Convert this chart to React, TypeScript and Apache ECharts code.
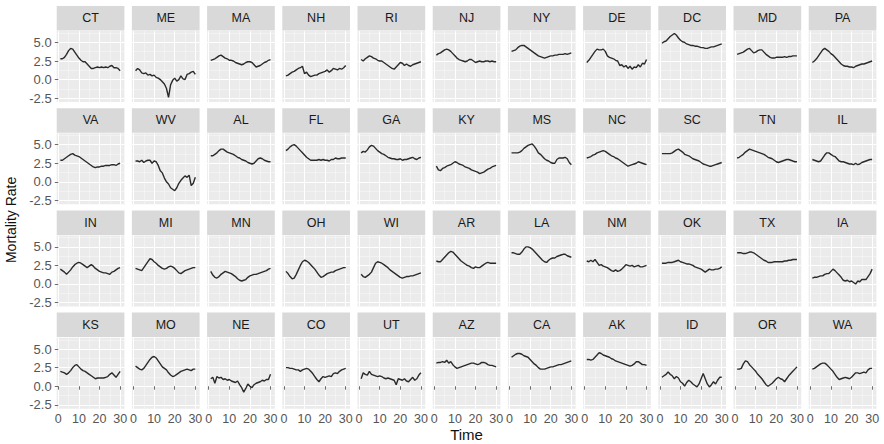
import React, { useEffect, useRef } from "react";
import * as echarts from "echarts";

const stateNames = [
  "CT", "ME", "MA", "NH", "RI", "NJ", "NY", "DE", "DC", "MD", "PA",
  "VA", "WV", "AL", "FL", "GA", "KY", "MS", "NC", "SC", "TN", "IL",
  "IN", "MI", "MN", "OH", "WI", "AR", "LA", "NM", "OK", "TX", "IA",
  "KS", "MO", "NE", "CO", "UT", "AZ", "CA", "AK", "ID", "OR", "WA",
];

const timePoints = [1, 2, 3, 4, 5, 6, 7, 8, 9, 10, 11, 12, 13, 14, 15, 16, 17, 18, 19, 20, 21, 22, 23, 24, 25, 26, 27, 28, 29, 30];

const CT = [2.8, 2.8, 3.0, 3.4, 3.9, 4.2, 4.1, 3.7, 3.3, 2.9, 2.6, 2.4, 2.4, 2.1, 1.8, 1.5, 1.5, 1.6, 1.7, 1.6, 1.7, 1.6, 1.7, 1.6, 1.8, 1.9, 1.6, 1.6, 1.5, 1.2];
const ME = [1.2, 1.5, 1.3, 0.9, 0.8, 0.9, 0.6, 0.7, 0.5, 0.6, 0.3, 0.2, 0.0, -0.3, -0.6, -1.2, -2.4, -0.7, -0.1, 0.2, -0.2, 0.0, 0.5, 0.1, 0.0, 0.7, 0.8, 1.0, 1.1, 0.7];
const MA = [2.6, 2.7, 2.8, 3.0, 3.2, 3.3, 3.1, 2.9, 2.8, 2.6, 2.6, 2.5, 2.3, 2.2, 2.1, 2.0, 2.1, 2.3, 2.4, 2.4, 2.3, 2.0, 1.7, 1.8, 1.9, 2.1, 2.3, 2.4, 2.6, 2.7];
const NH = [0.5, 0.6, 0.8, 1.0, 1.1, 1.3, 1.5, 1.6, 1.8, 0.8, 1.0, 0.6, 0.4, 0.5, 0.6, 0.6, 0.8, 0.9, 1.0, 1.1, 1.3, 1.0, 1.2, 1.5, 1.4, 1.3, 1.5, 1.4, 1.6, 1.9];
const RI = [2.7, 2.5, 2.8, 3.0, 3.2, 3.1, 2.9, 2.8, 2.6, 2.5, 2.5, 2.3, 2.1, 1.9, 1.7, 1.5, 1.4, 1.7, 2.0, 2.3, 2.2, 1.9, 2.1, 1.9, 1.8, 2.0, 2.1, 2.2, 2.3, 2.4];
const NJ = [3.3, 3.5, 3.6, 3.8, 4.0, 4.1, 4.0, 3.8, 3.5, 3.2, 2.9, 2.7, 2.6, 2.5, 2.4, 2.5, 2.7, 2.7, 2.5, 2.3, 2.4, 2.5, 2.4, 2.4, 2.5, 2.5, 2.4, 2.5, 2.4, 2.4];
const NY = [3.8, 3.9, 4.0, 4.3, 4.5, 4.6, 4.6, 4.4, 4.2, 4.0, 3.8, 3.6, 3.4, 3.2, 3.1, 3.0, 2.9, 3.0, 3.1, 3.2, 3.2, 3.3, 3.3, 3.4, 3.4, 3.4, 3.5, 3.4, 3.5, 3.6];
const DE = [2.3, 2.6, 3.0, 3.4, 3.8, 4.1, 4.0, 4.0, 4.1, 3.8, 3.2, 3.0, 2.9, 2.8, 2.6, 2.5, 1.9, 2.0, 1.7, 1.9, 1.5, 1.8, 1.4, 1.7, 1.6, 2.0, 1.7, 2.2, 2.1, 2.7];
const DC = [4.9, 5.1, 5.2, 5.5, 5.8, 6.0, 6.2, 6.0, 5.6, 5.3, 5.1, 5.0, 4.8, 4.7, 4.6, 4.6, 4.5, 4.5, 4.4, 4.3, 4.3, 4.2, 4.2, 4.3, 4.4, 4.4, 4.5, 4.6, 4.7, 4.8];
const MD = [3.4, 3.5, 3.6, 3.7, 3.9, 4.1, 4.2, 3.9, 3.6, 3.7, 3.9, 4.0, 4.0, 3.7, 3.4, 3.2, 3.0, 2.9, 2.9, 3.0, 3.0, 3.0, 3.0, 3.1, 3.0, 3.1, 3.1, 3.2, 3.2, 3.2];
const PA = [2.3, 2.5, 2.8, 3.2, 3.6, 4.0, 4.2, 4.0, 3.8, 3.5, 3.3, 3.0, 2.7, 2.4, 2.1, 1.9, 1.8, 1.8, 1.7, 1.7, 1.6, 1.8, 1.9, 2.0, 2.1, 2.1, 2.2, 2.3, 2.4, 2.5];
const VA = [2.9, 2.9, 3.1, 3.3, 3.5, 3.7, 3.8, 3.6, 3.5, 3.4, 3.2, 3.0, 2.8, 2.6, 2.4, 2.2, 2.0, 1.9, 2.0, 2.0, 2.1, 2.1, 2.2, 2.2, 2.2, 2.3, 2.3, 2.2, 2.4, 2.5];
const WV = [2.8, 2.8, 2.7, 2.9, 2.6, 2.8, 2.9, 2.9, 2.5, 2.8, 2.7, 2.2, 1.5, 1.2, 0.5, 0.0, -0.3, -0.8, -1.0, -1.2, -0.8, -0.2, 0.2, 0.5, 0.8, 0.6, 0.9, -0.5, -0.2, 0.6];
const AL = [3.5, 3.5, 3.7, 3.9, 4.2, 4.4, 4.4, 4.2, 4.0, 3.9, 3.8, 3.7, 3.5, 3.3, 3.2, 3.0, 2.9, 2.8, 2.6, 2.5, 2.4, 2.5, 2.8, 3.1, 3.2, 3.1, 2.9, 2.8, 2.7, 2.7];
const FL = [4.2, 4.4, 4.7, 4.9, 5.0, 4.8, 4.5, 4.2, 3.9, 3.6, 3.3, 3.1, 2.9, 2.9, 2.9, 2.9, 3.0, 2.9, 3.0, 2.9, 2.9, 2.8, 3.0, 3.0, 3.2, 3.1, 3.1, 3.2, 3.2, 3.2];
const GA = [3.9, 4.1, 4.0, 4.3, 4.7, 4.9, 4.8, 4.5, 4.2, 4.0, 3.8, 3.7, 3.5, 3.3, 3.2, 3.1, 3.1, 3.0, 3.0, 3.1, 2.9, 3.0, 3.0, 3.1, 3.2, 3.3, 3.1, 3.0, 3.2, 3.3];
const KY = [2.1, 1.6, 1.5, 1.8, 1.9, 2.1, 2.2, 2.3, 2.5, 2.7, 2.6, 2.4, 2.3, 2.2, 2.0, 1.9, 1.8, 1.6, 1.5, 1.4, 1.3, 1.1, 1.2, 1.3, 1.5, 1.7, 1.8, 2.0, 2.1, 2.2];
const MS = [3.9, 3.9, 3.9, 3.9, 4.0, 4.2, 4.5, 4.7, 4.9, 5.0, 5.1, 4.8, 4.4, 3.9, 3.7, 3.4, 3.1, 2.9, 2.8, 2.6, 2.5, 2.5, 3.0, 3.2, 3.2, 3.2, 3.3, 3.1, 2.6, 2.3];
const NC = [3.2, 3.3, 3.4, 3.6, 3.7, 3.9, 4.0, 4.1, 4.2, 4.1, 3.9, 3.7, 3.5, 3.4, 3.2, 3.1, 2.9, 2.7, 2.5, 2.3, 2.1, 2.2, 2.3, 2.4, 2.5, 2.7, 2.6, 2.5, 2.4, 2.3];
const SC = [3.8, 3.8, 3.8, 3.8, 3.8, 3.9, 4.1, 4.3, 4.4, 4.2, 4.0, 3.7, 3.6, 3.5, 3.3, 3.1, 3.0, 2.9, 2.8, 2.6, 2.4, 2.3, 2.2, 2.1, 2.1, 2.2, 2.3, 2.4, 2.5, 2.6];
const TN = [3.2, 3.3, 3.5, 3.7, 4.0, 4.2, 4.4, 4.3, 4.2, 4.1, 4.0, 3.9, 3.8, 3.7, 3.5, 3.3, 3.2, 3.1, 2.9, 2.7, 2.6, 2.7, 2.8, 2.9, 3.0, 3.0, 2.9, 2.8, 2.7, 2.7];
const IL = [3.0, 2.9, 2.8, 2.7, 2.8, 3.2, 3.6, 3.9, 3.9, 3.7, 3.5, 3.4, 3.1, 2.8, 2.7, 2.7, 2.6, 2.5, 2.4, 2.4, 2.3, 2.5, 2.3, 2.4, 2.6, 2.7, 2.8, 2.9, 3.0, 3.0];
const IN = [2.0, 1.8, 1.6, 1.3, 1.6, 1.9, 2.3, 2.6, 2.8, 2.9, 2.8, 2.6, 2.4, 2.2, 2.4, 2.6, 2.4, 2.1, 1.9, 1.7, 1.6, 1.5, 1.5, 1.4, 1.3, 1.6, 1.7, 1.9, 2.1, 2.2];
const MI = [2.1, 2.0, 1.9, 1.8, 2.2, 2.6, 3.0, 3.4, 3.3, 3.0, 2.8, 2.5, 2.3, 2.1, 2.0, 2.1, 2.3, 2.4, 2.3, 2.1, 1.8, 1.5, 1.4, 1.6, 1.8, 1.9, 2.0, 2.1, 2.2, 2.2];
const MN = [1.7, 1.2, 0.9, 0.8, 1.0, 1.3, 1.5, 1.7, 1.6, 1.5, 1.4, 1.2, 1.0, 0.7, 0.5, 0.4, 0.5, 0.6, 0.9, 1.1, 1.2, 1.3, 1.3, 1.4, 1.5, 1.6, 1.7, 1.8, 2.0, 2.1];
const OH = [1.7, 1.4, 1.0, 0.7, 0.8, 1.3, 1.9, 2.5, 3.0, 3.2, 3.1, 2.9, 2.6, 2.3, 2.0, 1.6, 1.2, 0.9, 1.0, 1.2, 1.4, 1.5, 1.6, 1.6, 1.8, 1.9, 2.0, 2.1, 2.2, 2.2];
const WI = [1.3, 1.0, 0.9, 1.1, 1.3, 1.6, 2.2, 2.8, 3.0, 2.9, 2.8, 2.6, 2.4, 2.2, 1.9, 1.7, 1.5, 1.3, 1.1, 0.9, 0.8, 0.9, 1.0, 1.0, 1.1, 1.1, 1.2, 1.3, 1.4, 1.5];
const AR = [3.1, 3.0, 3.0, 3.3, 3.6, 3.9, 4.2, 4.4, 4.3, 4.0, 3.7, 3.4, 3.1, 2.9, 2.7, 2.5, 2.4, 2.2, 2.1, 2.3, 2.2, 2.2, 2.4, 2.6, 2.8, 2.9, 2.8, 2.8, 2.8, 2.8];
const LA = [4.2, 4.2, 4.1, 4.0, 4.0, 4.3, 4.7, 5.0, 5.0, 4.9, 4.7, 4.4, 4.1, 3.8, 3.5, 3.2, 3.0, 2.9, 3.2, 3.4, 3.5, 3.5, 3.7, 3.8, 3.9, 4.0, 4.0, 3.8, 3.7, 3.6];
const NM = [3.1, 3.0, 3.2, 3.0, 3.3, 2.9, 2.5, 2.6, 2.4, 2.3, 2.2, 2.0, 1.8, 1.7, 1.9, 1.7, 1.8, 2.0, 2.3, 2.6, 2.5, 2.4, 2.5, 2.3, 2.4, 2.5, 2.3, 2.3, 2.4, 2.5];
const OK = [2.8, 2.8, 2.8, 2.9, 2.9, 2.9, 3.0, 3.1, 3.2, 3.0, 2.9, 2.8, 2.7, 2.7, 2.6, 2.5, 2.3, 2.2, 2.1, 2.0, 1.8, 1.6, 1.8, 2.0, 1.9, 1.9, 2.0, 2.0, 2.1, 2.3];
const TX = [4.2, 4.2, 4.2, 4.1, 4.1, 4.2, 4.3, 4.3, 4.2, 4.0, 3.8, 3.6, 3.4, 3.2, 3.1, 2.9, 2.9, 2.9, 3.0, 3.0, 3.0, 3.0, 3.0, 3.1, 3.1, 3.2, 3.2, 3.3, 3.3, 3.3];
const IA = [0.8, 0.9, 0.9, 1.0, 1.1, 1.1, 1.3, 1.4, 1.4, 1.7, 2.0, 1.8, 1.5, 1.2, 0.9, 0.5, 0.4, 0.5, 0.3, 0.4, 0.2, 0.0, 0.4, 0.3, 0.6, 0.6, 0.6, 1.0, 1.4, 2.0];
const KS = [2.0, 1.9, 1.8, 1.6, 1.8, 2.1, 2.5, 2.8, 2.9, 2.6, 2.3, 2.1, 2.0, 1.8, 1.6, 1.4, 1.2, 1.0, 1.1, 1.1, 1.1, 1.1, 1.2, 1.3, 1.6, 1.8, 1.5, 1.2, 1.6, 2.0];
const MO = [2.7, 2.5, 2.3, 2.2, 2.4, 2.8, 3.2, 3.6, 3.9, 4.0, 3.8, 3.4, 3.0, 2.6, 2.4, 2.2, 1.8, 1.5, 1.3, 1.4, 1.6, 1.8, 2.0, 2.1, 2.2, 2.3, 2.2, 2.1, 2.3, 2.3];
const NE = [1.0, 1.2, 0.4, 1.3, 1.1, 1.2, 0.9, 1.0, 0.8, 0.9, 0.7, 0.6, 0.5, 0.7, 0.2, -0.2, -0.8, -0.3, 0.3, 0.0, -0.2, 0.2, 0.4, 0.5, 0.6, 0.8, 0.7, 0.9, 0.9, 1.6];
const CO = [2.5, 2.5, 2.4, 2.4, 2.3, 2.2, 2.2, 2.0, 2.2, 2.3, 2.4, 2.3, 2.0, 1.7, 1.3, 0.9, 0.6, 1.0, 1.3, 1.2, 1.3, 1.4, 1.3, 1.7, 1.8, 1.7, 2.0, 2.2, 2.3, 2.4];
const UT = [1.0, 1.8, 1.6, 1.5, 2.0, 1.6, 1.5, 1.4, 1.3, 1.4, 1.3, 1.1, 1.0, 1.1, 1.0, 0.9, 0.8, 0.2, 1.0, 0.9, 0.8, 1.0, 0.7, 0.6, 0.9, 1.2, 0.8, 1.0, 1.5, 1.8];
const AZ = [3.1, 3.2, 3.2, 3.3, 3.2, 3.5, 3.1, 3.3, 2.9, 2.6, 2.4, 2.5, 2.6, 2.7, 2.8, 2.9, 3.0, 3.1, 3.1, 3.0, 2.9, 3.0, 3.2, 3.2, 3.1, 2.9, 2.8, 2.8, 2.7, 2.6];
const CA = [3.9, 4.1, 4.3, 4.4, 4.4, 4.3, 4.1, 4.0, 3.9, 3.6, 3.3, 3.0, 2.8, 2.5, 2.3, 2.3, 2.3, 2.4, 2.5, 2.6, 2.6, 2.7, 2.8, 2.9, 2.9, 3.0, 3.1, 3.2, 3.3, 3.4];
const AK = [3.6, 3.6, 3.5, 3.6, 3.9, 4.2, 4.5, 4.4, 4.2, 4.1, 4.0, 3.9, 3.7, 3.6, 3.4, 3.3, 3.2, 3.1, 3.0, 2.9, 2.8, 2.7, 2.8, 3.0, 3.3, 3.3, 3.1, 2.9, 2.9, 2.8];
const ID = [1.2, 1.4, 1.6, 1.9, 1.6, 1.4, 1.0, 1.3, 1.1, 0.6, 0.4, 0.0, 0.5, 0.8, 0.6, 0.3, 0.1, -0.1, 0.3, 1.0, 1.7, 1.0, 0.3, -0.1, 0.2, 0.6, 0.3, 0.8, 1.2, 1.2];
const OR = [2.3, 2.3, 2.4, 3.0, 3.4, 3.3, 2.9, 2.6, 2.3, 2.0, 1.6, 1.3, 1.0, 0.6, 0.2, 0.0, 0.2, 0.4, 0.7, 1.0, 1.2, 1.0, 0.9, 0.6, 1.0, 1.4, 1.7, 2.0, 2.3, 2.6];
const WA = [2.3, 2.4, 2.6, 2.8, 3.0, 3.1, 3.1, 2.9, 2.6, 2.3, 2.0, 1.6, 1.2, 0.9, 1.0, 1.1, 1.2, 1.1, 1.0, 1.2, 1.5, 1.8, 1.8, 1.7, 1.8, 1.9, 1.8, 2.2, 2.4, 2.4];

const stateSeries = [
  CT, ME, MA, NH, RI, NJ, NY, DE, DC, MD, PA,
  VA, WV, AL, FL, GA, KY, MS, NC, SC, TN, IL,
  IN, MI, MN, OH, WI, AR, LA, NM, OK, TX, IA,
  KS, MO, NE, CO, UT, AZ, CA, AK, ID, OR, WA,
];

const xTicks = [0, 10, 20, 30];
const xMinorTicks = [5, 15, 25];
const yTicks = [-2.5, 0, 2.5, 5];
const yMinorTicks = [-1.25, 1.25, 3.75, 6.25];

const xLabelTitle = "Time";
const yLabelTitle = "Mortality Rate";

const FONT = "'Liberation Sans', Arial, Helvetica, sans-serif";

export default function App() {
  const ref = useRef<HTMLDivElement>(null);

  useEffect(() => {
    if (!ref.current) return;
    const chart = echarts.init(ref.current, null, { renderer: "svg", width: 884, height: 444 });

    const nCols = 11;
    const nRows = 4;
    const left0 = 56.7;
    const colPitch = 75.2;
    const panelW = 67.7;
    const top0 = 6;
    const rowPitch = 102.2;
    const stripH = 24.5;
    const panelGap = 0.6;
    const panelH = 71;
    const xMin = -0.77;
    const xMax = 32.07;
    const yMin = -3.03;
    const yMax = 6.53;

    const grids: any[] = [];
    const xAxes: any[] = [];
    const yAxes: any[] = [];
    const series: any[] = [];
    const graphics: any[] = [];

    stateNames.forEach((name, i) => {
      const r = Math.floor(i / nCols);
      const c = i % nCols;
      const gx = left0 + c * colPitch;
      const sTop = top0 + r * rowPitch;
      const gy = sTop + stripH + panelGap;
      const isBottom = r === nRows - 1;
      const isLeft = c === 0;

      grids.push({
        left: gx,
        top: gy,
        width: panelW,
        height: panelH,
        show: true,
        backgroundColor: "#EBEBEB",
        borderWidth: 0,
        containLabel: false,
      });

      xAxes.push({
        type: "value",
        gridIndex: i,
        min: xMin,
        max: xMax,
        axisLine: { show: false },
        axisTick: {
          show: isBottom,
          customValues: xTicks,
          length: 3.5,
          lineStyle: { color: "#6E6E6E", width: 1 },
        },
        axisLabel: {
          show: isBottom,
          customValues: xTicks,
          color: "#555555",
          fontSize: 12.5,
          fontFamily: FONT,
          margin: 4,
          formatter: (v: number) => String(v),
        },
        splitLine: { show: true, lineStyle: { color: "#FFFFFF", width: 1.1 } },
      });
      xAxes.push({
        type: "value",
        gridIndex: i,
        min: xMin,
        max: xMax,
        axisLine: { show: false },
        axisTick: { show: false, customValues: xMinorTicks },
        axisLabel: { show: false, customValues: xMinorTicks },
        splitLine: { show: true, lineStyle: { color: "#F6F6F6", width: 0.6 } },
      });

      yAxes.push({
        type: "value",
        gridIndex: i,
        min: yMin,
        max: yMax,
        axisLine: { show: false },
        axisTick: {
          show: isLeft,
          customValues: yTicks,
          length: 3.5,
          lineStyle: { color: "#6E6E6E", width: 1 },
        },
        axisLabel: {
          show: isLeft,
          customValues: yTicks,
          color: "#555555",
          fontSize: 13,
          fontFamily: FONT,
          margin: 5,
          formatter: (v: number) => v.toFixed(1),
        },
        splitLine: { show: true, lineStyle: { color: "#FFFFFF", width: 1.1 } },
      });
      yAxes.push({
        type: "value",
        gridIndex: i,
        min: yMin,
        max: yMax,
        axisLine: { show: false },
        axisTick: { show: false, customValues: yMinorTicks },
        axisLabel: { show: false, customValues: yMinorTicks },
        splitLine: { show: true, lineStyle: { color: "#F6F6F6", width: 0.6 } },
      });

      const vals = stateSeries[i];
      series.push({
        type: "line",
        name,
        xAxisIndex: 2 * i,
        yAxisIndex: 2 * i,
        data: timePoints.map((t, k) => [t, vals[k]]),
        showSymbol: false,
        symbol: "none",
        lineStyle: { color: "#2A2A2A", width: 1.4 },
        silent: true,
        z: 5,
      });

      graphics.push({
        type: "rect",
        silent: true,
        shape: { x: gx, y: sTop, width: panelW, height: stripH },
        style: { fill: "#D9D9D9" },
      });
      graphics.push({
        type: "text",
        silent: true,
        x: gx + panelW / 2,
        y: sTop + stripH / 2,
        style: {
          text: name,
          fill: "#1A1A1A",
          fontSize: 12.5,
          fontFamily: FONT,
          align: "center",
          verticalAlign: "middle",
          textAlign: "center",
          textVerticalAlign: "middle",
        },
      });
    });

    const plotLeft = left0;
    const plotRight = left0 + (nCols - 1) * colPitch + panelW;
    const panelsTop = top0 + stripH + panelGap;
    const panelsBottom = top0 + (nRows - 1) * rowPitch + stripH + panelGap + panelH;

    graphics.push({
      type: "text",
      silent: true,
      x: (plotLeft + plotRight) / 2,
      y: 434,
      style: {
        text: xLabelTitle,
        fill: "#111111",
        fontSize: 15,
        fontFamily: FONT,
        align: "center",
        verticalAlign: "middle",
        textAlign: "center",
        textVerticalAlign: "middle",
      },
    });
    graphics.push({
      type: "text",
      silent: true,
      x: 11,
      y: (panelsTop + panelsBottom) / 2,
      rotation: Math.PI / 2,
      style: {
        text: yLabelTitle,
        fill: "#111111",
        fontSize: 14,
        fontFamily: FONT,
        align: "center",
        verticalAlign: "middle",
        textAlign: "center",
        textVerticalAlign: "middle",
      },
    });

    chart.setOption({
      animation: false,
      backgroundColor: "#FFFFFF",
      grid: grids,
      xAxis: xAxes,
      yAxis: yAxes,
      series,
      graphic: { elements: graphics },
    });

    return () => {
      chart.dispose();
    };
  }, []);

  return (
    <div
      ref={ref}
      style={{ position: "absolute", left: 0, top: 0, width: 884, height: 444, background: "#FFFFFF" }}
    />
  );
}
